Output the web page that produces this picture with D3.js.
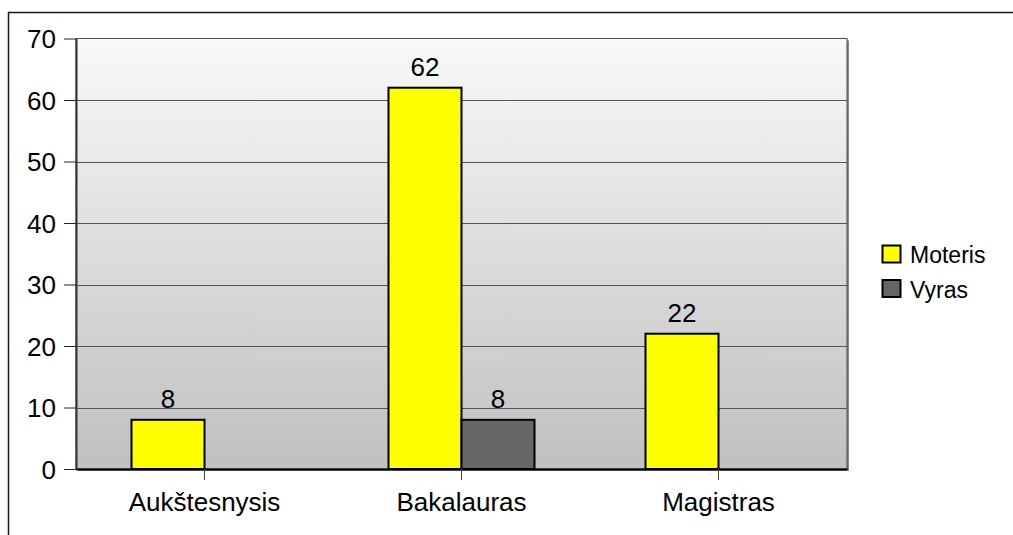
<!DOCTYPE html>
<html><head><meta charset="utf-8">
<script src="https://cdn.jsdelivr.net/npm/d3@7/dist/d3.min.js"></script>
<style>html,body{margin:0;padding:0;background:#fff;}svg{display:block;font-family:"Liberation Sans",Arial,sans-serif;}</style>
</head><body>
<script>
const categories = ["Aukštesnysis", "Bakalauras", "Magistras"];
const seriesNames = ["Moteris", "Vyras"];
const moteris = [8, 62, 22];
const vyras = [null, 8, null];
const yTicks = [0, 10, 20, 30, 40, 50, 60, 70];
const colors = ["#ffff00", "#666666"];

(function () {
const W = 1013, H = 535;
const svg = d3.select("body").append("svg").attr("width", W).attr("height", H);

// outer frame
svg.append("rect").attr("x", 8.5).attr("y", 12.5).attr("width", W + 10).attr("height", H + 10)
  .attr("fill", "none").attr("stroke", "#1a1a1a").attr("stroke-width", 1.5);

const pLeft = 76, pRight = 847, pTop = 38.5, pBottom = 469;
const x0 = d3.scaleBand().domain(categories).range([pLeft, pRight]).paddingInner(0).paddingOuter(0);
const x1 = d3.scaleBand().domain(seriesNames).range([0, 146]);
const y = d3.scaleLinear().domain([0, 70]).range([pBottom, pTop]);

const defs = svg.append("defs");
const grad = defs.append("linearGradient").attr("id", "bg").attr("x1", 0).attr("y1", 0).attr("x2", 0).attr("y2", 1);
grad.append("stop").attr("offset", "0%").attr("stop-color", "#f9f9f9");
grad.append("stop").attr("offset", "100%").attr("stop-color", "#c0c0c0");

// shadow
svg.append("rect").attr("x", pLeft + 2).attr("y", pTop + 2).attr("width", pRight - pLeft).attr("height", pBottom - pTop)
  .attr("fill", "#8a8a8a");
svg.append("rect").attr("x", pLeft).attr("y", pTop).attr("width", pRight - pLeft).attr("height", pBottom - pTop)
  .attr("fill", "url(#bg)").attr("stroke", "#4a4a4a").attr("stroke-width", 1);

// gridlines
svg.append("g").selectAll("line").data(yTicks.filter(d => d > 0 && d < 70)).join("line")
  .attr("x1", pLeft).attr("x2", pRight).attr("y1", d => Math.round(y(d)) + 0.5).attr("y2", d => Math.round(y(d)) + 0.5)
  .attr("stroke", "#555").attr("stroke-width", 1);

// y axis
const yAxis = d3.axisLeft(y).tickValues(yTicks).tickSize(12).tickSizeOuter(0).tickPadding(8);
const ga = svg.append("g").attr("transform", `translate(${pLeft},0)`).call(yAxis);
ga.select(".domain").attr("stroke", "#333").attr("stroke-width", 2);
ga.selectAll(".tick line").attr("stroke", "#222");
ga.selectAll("text").attr("font-size", 26).attr("fill", "#000").attr("font-family", "Liberation Sans, Arial, sans-serif").attr("dy", "0.36em");

// bars
const groups = [moteris, vyras];
const barData = [];
categories.forEach((c, i) => {
  groups.forEach((s, j) => {
    if (s[i] != null) barData.push({ c, s: seriesNames[j], v: s[i], j });
  });
});
const gOff = (x0.bandwidth() - 146) / 2;
svg.append("g").selectAll("rect").data(barData).join("rect")
  .attr("x", d => x0(d.c) + gOff + x1(d.s))
  .attr("y", d => y(d.v))
  .attr("width", x1.bandwidth())
  .attr("height", d => y(0) - y(d.v))
  .attr("fill", d => colors[d.j]).attr("stroke", "#000").attr("stroke-width", 2);

// labels
svg.append("g").selectAll("text").data(barData).join("text")
  .attr("x", d => x0(d.c) + gOff + x1(d.s) + x1.bandwidth() / 2)
  .attr("y", d => y(d.v) - 12)
  .attr("text-anchor", "middle").attr("font-size", 26).attr("fill", "#000")
  .text(d => d.v);

// x axis
const xAxis = d3.axisBottom(x0).tickSize(11).tickSizeOuter(0).tickPadding(13);
const gx = svg.append("g").attr("transform", `translate(0,${pBottom})`).call(xAxis);
gx.select(".domain").attr("stroke", "#000").attr("stroke-width", 2);
gx.selectAll(".tick line").attr("stroke", "#444");
gx.selectAll("text").attr("font-size", 26).attr("fill", "#000").attr("font-family", "Liberation Sans, Arial, sans-serif");

// legend
const lg = svg.append("g").selectAll("g").data(seriesNames).join("g")
  .attr("transform", (d, i) => `translate(882,${245 + i * 34.5})`);
lg.append("rect").attr("x", 0.5).attr("y", 0.5).attr("width", 18).attr("height", 17)
  .attr("fill", (d, i) => colors[i]).attr("stroke", "#000").attr("stroke-width", 2);
lg.append("text").attr("x", 28).attr("y", 18).attr("font-size", 23).attr("fill", "#000").text(d => d);
})();
</script>
</body></html>
